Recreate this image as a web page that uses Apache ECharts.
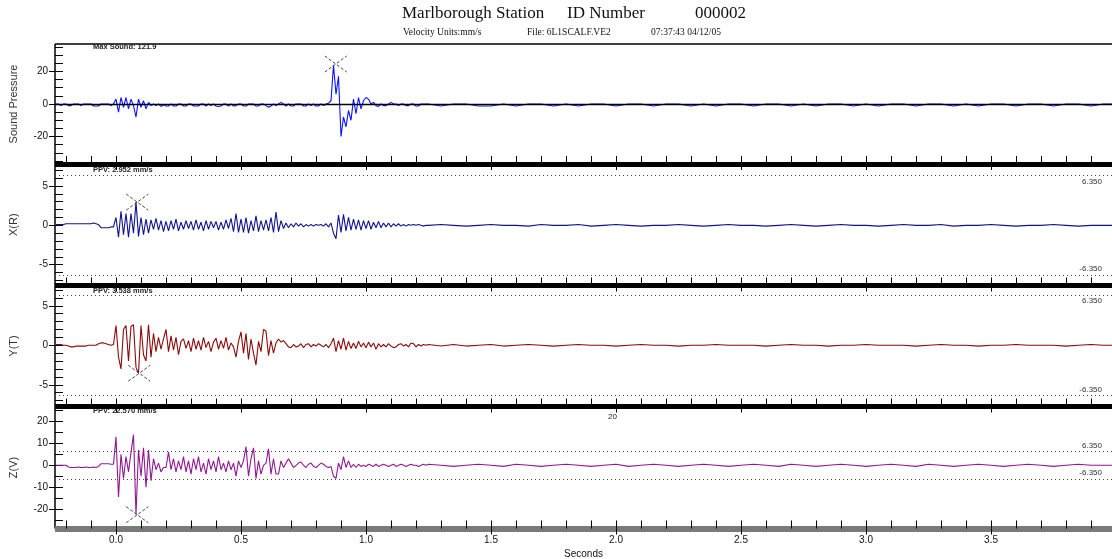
<!DOCTYPE html>
<html>
<head>
<meta charset="utf-8">
<script src="https://cdn.jsdelivr.net/npm/echarts@6/dist/echarts.min.js"></script>
<style>html,body{margin:0;padding:0;background:#fff}#c{width:1112px;height:559px}</style>
</head>
<body>
<div id="c"></div>
<script>
const T_A0 = -0.24, DT_A = 0.01;   // dense segment: -0.24 .. 1.24 s
const T_B0 = 1.25,  DT_B = 0.05;   // quiet tail:    1.25 .. 4.00 s

// Sound Pressure
const soundA = [0,0,-1,0,0,-1,-1,0,0,0,-1,0,0,0,0,-1.2,-1.2,-1.2,0,0,0,0,-1,0,
 3,-5,4,-2,4,-3,3,-1,-8,3, -2,2,-3,1,-1,0,-1,0,-1.5,-0.5,
 -1.2,-1.2,0,-1.2,-1.2,0,0,-1.2,-1.2,0, 0,-1.2,-1.2,-1.2,0,0,-1.2,0,-1,0, -1.2,-1.5,-1.2,0,0,-1.2,0,-1.2,-1,0,
 0,-1.2,-1.2,0,0,0,-1.2,-1.2,0,0, -1,-2,-1.2,0,-1,0,1,0,-1.2,0, -1.2,-1.2,0,0,0,-1.2,-1.2,0,-1,0,
 -1.2,-1.2,0,-1,0,
 0.5,2,24,6,17,-20,-8,-14,-4,-10, 3,-6,4,-3,2,4,3,0,1,-1, -1.5,0,-1,-1,0,1,0,0,-1,0,
 0,-1,-1,0,0,-1.2,-1.2,0,0,0];
const soundB = [0,-1.2,0,0,-1.2,-1.2,0,-1.2,0,0, -1.2,0,-1.2,0,0,-1.2,0,0,-1.2,0,
 0,-1.2,0,-1.2,0,0,-1.2,0,0,-1.2, 0,-1.2,0,0,-1.2,0,-1.2,0,0,-1.2,
 0,0,-1.2,0,-1.2,0,0,-1.2,0,0, -1.2,0,0,-1.2,0,0];

// X (R)
const xrA = [0.1,0.1,0.1,0.1,0.2,0.2,0.2,0.2,0.2,0.2,0.2,0.2,0.2,0.2,0.2,0.3,0.2,0.1,-0.3,-0.3,-0.3,-0.3,-0.2,-0.2,
 1.0,-1.5,1.8,-1.2,1.5,-1.5,1.5,-1.0,2.95,-1.4,
 1.0,-1.2,0.8,-1.0,0.7,-0.5,0.9,-0.6,0.6,-0.8,
 0.5,-0.7,0.6,-0.5,0.8,-0.7,0.4,-0.5,0.6,-0.4,
 0.5,-0.6,0.7,-0.5,0.4,-0.7,0.6,-0.5,0.5,-0.3,
 0.5,-0.6,0.4,-0.5,0.7,-0.4,0.9,-0.8,1.5,-0.9,
 0.8,-0.9,1.0,-1.0,0.6,-0.7,1.2,-0.8,0.6,-0.6,
 0.7,-0.7,1.0,-0.9,1.7,-0.8,0.6,-0.4,0.3,-0.3,
 0.2,-0.2,0.3,-0.1,0.2,-0.2,0.1,-0.1,0.1,-0.1,
 0.1,0,0.1,-0.1,0.2,-0.2,0.3,-1.0,-1.7,1.3,
 -0.9,1.4,-0.7,1.0,-0.6,0.8,-0.5,0.7,-0.6,0.6,
 -0.4,0.6,-0.5,0.4,-0.3,0.5,-0.3,0.3,-0.2,0.3,
 -0.2,0.2,-0.1,0.2,-0.1,0.1,-0.1,0.1,0,0.1,
 0,0.1,0,-0.1,0];
const xrB = [0,0.1,0,-0.1,0,0.1,0,0,-0.1,0.1, 0,0,0.1,-0.1,0,0.1,0,-0.1,0,0,
 0.1,0,-0.1,0,0.1,0,0,-0.1,0,0.1, 0,-0.1,0,0.1,0,0,-0.1,0,0.1,0,
 0,0.1,-0.1,0,0,0.1,0,-0.1,0,0, 0.1,0,-0.1,0,0,0];

// Y (T)
const ytA = [0.1,0.1,0.1,0,0,-0.1,-0.2,-0.2,-0.1,-0.1,-0.1,-0.1,-0.1,0,0,0,0,0.2,0.3,0.3,0.2,0.1,0,0.1,
 2.5,-1.5,-3.0,2.0,2.5,-2.0,2.4,2.6,-2.8,-3.54,
 2.5,-1.2,-2.0,2.6,-1.5,1.5,-0.8,1.0,-0.5,0.8,
 2.0,-0.8,1.2,-0.6,1.0,-1.2,0.5,0.8,-0.4,0.6,
 -0.8,0.9,-0.5,0.6,-0.6,1.0,-0.3,0.5,-0.8,0.4,
 0.9,-0.5,0.6,-0.4,1.0,-0.6,0.3,-0.2,-1.5,0.5,
 1.7,-1.0,1.5,-1.8,0.8,-1.0,-2.5,0.5,-0.8,2.0,
 1.8,-1.3,0.6,-1.0,0.3,0.8,0.4,0.6,0.2,-0.2,
 -0.3,0.1,-0.2,-0.1,0.2,-0.3,0.1,0.2,-0.2,0.1,
 -0.1,0.2,0,-0.2,0.1,-0.3,0.2,0.9,-0.8,0.6,
 -0.5,0.9,-0.6,0.5,-0.4,0.3,-0.4,0.5,-0.2,0.3,
 -0.3,0.4,-0.2,0.3,-0.5,0.2,-0.2,0.1,-0.2,0.2,
 -0.1,-0.3,-0.2,0.1,0.2,-0.1,0.1,-0.2,0.3,0.2,
 -0.2,0.1,-0.1,0.1,0];
const ytB = [0.1,-0.1,0.1,-0.1,0,0.1,-0.1,0,0.1,0, -0.1,0,0.1,0,0,-0.1,0,0.1,0,0,
 -0.1,0,0,0.1,0,0,0,-0.1,0,0.1, 0,0,-0.1,0,0,0.1,0,0,0,-0.1,
 0,0.1,0,0,-0.1,0,0,0.1,0,0, 0,-0.1,0,0.1,0,0];

// Z (V)
const zvA = [0,0,0,0,0,-0.8,-1,-1,-1,-0.8,-1,-1,-0.8,-1,-1,-0.8,-1,-0.5,0.7,0.7,0.7,0.7,0.5,0.5,
 13,-14.5,5,-6,4,-3,6,14,-22.6,7,
 -5,8,-10,7,-7,3,-2,1,-3,-1,
 -1,6,-2,3,-3,2,-2,4,-3,2,
 -4,3,-2,4,-3,1,-4,3,-2,2,
 -3,4,-2,1,-3,2,-2,1,-5,2,
 -1,2,8.5,-5,3,8,-6,2,-4,0,
 1,7.5,-4,3,-4,-4,2,-1,1,3,
 1,-1,0,1,1.5,0,-1,0.5,1,-0.5,
 -1,0,1,0.5,-0.5,-1,-0.5,-5,-6,1,
 -2,4,-1,2,-1,0.5,-1,0.5,-0.5,0,
 -0.5,0.5,0,-0.5,0.5,-0.5,0,0.5,0,-0.5,
 0,0.5,-0.5,0,0.5,0,-0.5,0,0.5,0,
 0,-0.5,0,0.5,0];
const zvB = [0.5,0,-0.5,0,0.5,0,-0.5,0.5,0,-0.5, 0,0.5,0,-0.5,0,0.5,-0.5,0,0.5,0,
 -0.5,0,0.5,0,-0.5,0,0.5,0,-0.5,0.5, 0,-0.5,0,0.5,0,-0.5,0,0.5,0,-0.5,
 0.5,0,-0.5,0,0.5,0,-0.5,0,0.5,0, -0.5,0,0.5,0,0,0];

// peak markers [seconds, value]
const soundPeak = [0.879, 24.6];
const xrPeak = [0.085, 2.952];
const ytPeak = [0.093, -3.538];
const zvPeak = [0.085, -22.57];

// text
const panelNames = ['Sound Pressure', 'X(R)', 'Y(T)', 'Z(V)'];
const panelNotes = ['Max Sound: 121.9', 'PPV: 2.952 mm/s', 'PPV: 3.538 mm/s', 'PPV: 22.570 mm/s'];
const limitValue = 6.35;
const limitLabels = ['6.350', '-6.350'];
const xLabelTicks = [0, 0.5, 1.0, 1.5, 2.0, 2.5, 3.0, 3.5];
const yMinorTicks = [
  [-35,-30,-25,-20,-15,-10,-5,0,5,10,15,20,25,30,35],
  [-7,-6,-5,-4,-3,-2,-1,0,1,2,3,4,5,6,7],
  [-7,-6,-5,-4,-3,-2,-1,0,1,2,3,4,5,6,7],
  [-25,-20,-15,-10,-5,0,5,10,15,20,25]
];
const yLabelTicks = [[-20,0,20],[-5,0,5],[-5,0,5],[-20,-10,0,10,20]];

// ---- build ----
function toPairs(a, b) {
  const out = [];
  a.forEach((v, i) => out.push([+(T_A0 + i * DT_A).toFixed(3), v]));
  b.forEach((v, i) => out.push([+(T_B0 + i * DT_B).toFixed(3), v]));
  return out;
}
const xMinorTicks = [];
for (let k = -2; k <= 39; k++) xMinorTicks.push(+(k * 0.1).toFixed(1));

const X_MIN = -0.244, X_MAX = 3.984;
const gridBase = {left: 55, width: 1057, containLabel: false, outerBoundsMode: 'none'};
const grids = [
  Object.assign({top: 44, height: 120}, gridBase),
  Object.assign({top: 164, height: 121.5}, gridBase),
  Object.assign({top: 285.5, height: 121}, gridBase),
  Object.assign({top: 406.5, height: 122}, gridBase)
];
const yRanges = [[-36.9, 36.9], [-7.65, 7.8], [-7.75, 7.57], [-28.85, 26.85]];
const colors = ['#0a14ff', '#101490', '#8c0a0a', '#931793'];
const traces = [toPairs(soundA, soundB), toPairs(xrA, xrB), toPairs(ytA, ytB), toPairs(zvA, zvB)];
const peaks = [soundPeak, xrPeak, ytPeak, zvPeak];

const xAxis = [], yAxis = [], series = [];
for (let g = 0; g < 4; g++) {
  const last = g === 3;
  xAxis.push({
    type: 'value', gridIndex: g, position: 'bottom', min: X_MIN, max: X_MAX,
    axisLine: {show: true, onZero: false, lineStyle: {color: last ? '#7a7a7a' : '#000', width: last ? 6 : 5, cap: 'butt'}},
    axisTick: {show: true, inside: true, length: 8, customValues: xMinorTicks, lineStyle: {color: '#000', width: 1}},
    axisLabel: {show: false}, splitLine: {show: false}
  });
  xAxis.push({
    type: 'value', gridIndex: g, position: 'bottom', offset: 0, min: X_MIN, max: X_MAX,
    name: last ? 'Seconds' : '', nameLocation: 'middle', nameGap: 21,
    nameTextStyle: {fontFamily: 'Liberation Sans', fontSize: 10, color: '#111'},
    axisLine: {show: false, onZero: false},
    axisTick: {show: true, inside: false, length: 6, customValues: xLabelTicks, lineStyle: {color: '#000', width: 1}},
    axisLabel: {show: last, customValues: xLabelTicks, margin: 7, fontFamily: 'Liberation Sans', fontSize: 10, color: '#111',
      formatter: v => v.toFixed(1)},
    splitLine: {show: false}
  });
  yAxis.push({
    type: 'value', gridIndex: g, position: 'left', min: yRanges[g][0], max: yRanges[g][1],
    name: panelNames[g], nameLocation: 'middle', nameGap: 36, nameRotate: 90,
    nameTextStyle: {fontFamily: 'Liberation Sans', fontSize: 11, color: '#333'},
    axisLine: {show: true, onZero: false, lineStyle: {color: '#000', width: 1.5, cap: 'butt'}},
    axisTick: {show: true, inside: true, length: 8, customValues: yMinorTicks[g], lineStyle: {color: '#000'}},
    axisLabel: {show: true, customValues: yLabelTicks[g], margin: 7, fontFamily: 'Liberation Sans', fontSize: 10, color: '#111'},
    splitLine: {show: false}
  });
  yAxis.push({
    type: 'value', gridIndex: g, position: 'left', offset: 0, min: yRanges[g][0], max: yRanges[g][1],
    axisLine: {show: false, onZero: false},
    axisTick: {show: true, inside: false, length: 6, customValues: yLabelTicks[g], lineStyle: {color: '#000'}},
    axisLabel: {show: false}, splitLine: {show: false}
  });

  const s = {
    type: 'line', xAxisIndex: 2 * g, yAxisIndex: 2 * g, data: traces[g],
    showSymbol: false, sampling: null, z: 3,
    lineStyle: {color: colors[g], width: 1.1}, silent: true
  };
  if (g === 0) {
    s.markLine = {silent: true, symbol: 'none', z: 5, label: {show: false},
      lineStyle: {color: '#000', type: 'solid', width: 1.3}, data: [{yAxis: 0}]};
  } else {
    const topPos = g === 3 ? 'insideEndTop' : 'insideEndBottom';
    s.markLine = {silent: true, symbol: 'none', z: 1,
      lineStyle: {color: '#444', type: [1, 3], width: 1},
      label: {fontFamily: 'Liberation Sans', fontSize: 8, color: '#333', distance: [10, 2]},
      data: [
        {yAxis: limitValue, label: {position: topPos, formatter: limitLabels[0]}},
        {yAxis: -limitValue, label: {position: 'insideEndTop', formatter: limitLabels[1]}}
      ]};
  }
  series.push(s);
  series.push({
    type: 'custom', xAxisIndex: 2 * g, yAxisIndex: 2 * g, data: [peaks[g]], z: 6, silent: true,
    renderItem: (params, api) => {
      const p = api.coord([api.value(0), api.value(1)]);
      const st = {stroke: '#444', lineWidth: 1, lineDash: [3, 2]};
      return {type: 'group', children: [
        {type: 'line', shape: {x1: p[0] - 11, y1: p[1] - 8, x2: p[0] + 11, y2: p[1] + 8}, style: st},
        {type: 'line', shape: {x1: p[0] - 11, y1: p[1] + 8, x2: p[0] + 11, y2: p[1] - 8}, style: st}
      ]};
    }
  });
}

const noteY = [47, 170, 291, 411];
const graphic = [
  {type: 'line', shape: {x1: 55, y1: 44, x2: 1112, y2: 44}, style: {stroke: '#000', lineWidth: 1.3}},
  {type: 'text', left: 402, top: 5, style: {text: 'Marlborough Station', font: '17px "Liberation Serif"', fill: '#111'}},
  {type: 'text', left: 567, top: 5, style: {text: 'ID Number', font: '17px "Liberation Serif"', fill: '#111'}},
  {type: 'text', left: 695, top: 5, style: {text: '000002', font: '17px "Liberation Serif"', fill: '#111'}},
  {type: 'text', left: 403, top: 27, style: {text: 'Velocity Units:mm/s', font: '9.5px "Liberation Serif"', fill: '#111'}},
  {type: 'text', left: 527, top: 27, style: {text: 'File: 6L1SCALF.VE2', font: '9.5px "Liberation Serif"', fill: '#111'}},
  {type: 'text', left: 651, top: 27, style: {text: '07:37:43 04/12/05', font: '9.5px "Liberation Serif"', fill: '#111'}},
  {type: 'text', left: 608, top: 413, style: {text: '20', font: '8px "Liberation Sans"', fill: '#222'}}
];
panelNotes.forEach((t, i) => graphic.push({type: 'text', left: 93, top: noteY[i] - 4,
  style: {text: t, font: 'bold 7.5px "Liberation Sans"', fill: '#222'}}));

const chart = echarts.init(document.getElementById('c'), null, {renderer: 'canvas'});
chart.setOption({
  animation: false,
  backgroundColor: '#fff',
  grid: grids,
  xAxis: xAxis,
  yAxis: yAxis,
  series: series,
  graphic: graphic
});
</script>
</body>
</html>
